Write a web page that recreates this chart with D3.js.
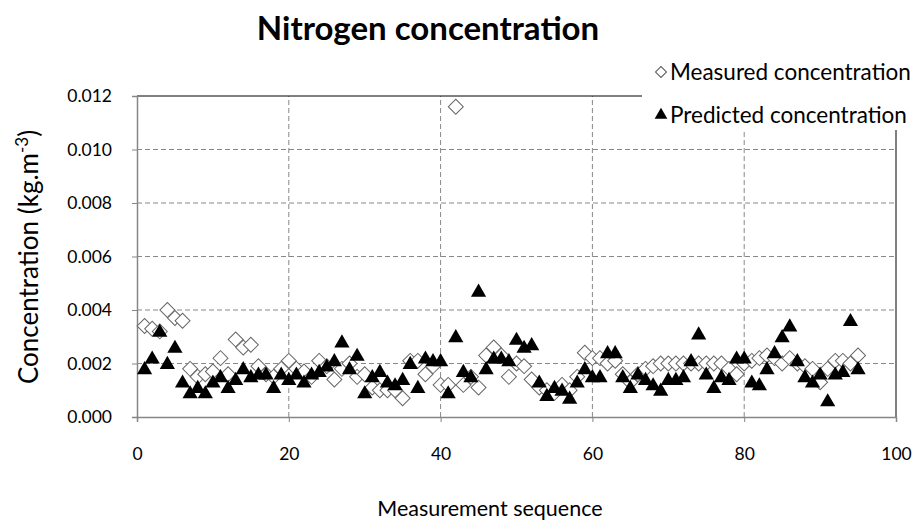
<!DOCTYPE html>
<html>
<head>
<meta charset="utf-8">
<script src="https://cdn.jsdelivr.net/npm/d3@7"></script>
<style>
  body { margin: 0; background: #fff; }
  text { font-family: Lato, "Open Sans", sans-serif; fill: #000; }
</style>
</head>
<body>
<div id="chart"></div>
<script>
// values, index 1..95
var measured = [
  0.0034, 0.0033, 0.0032, 0.0040, 0.0037, 0.0036, 0.0018, 0.0015, 0.0016, 0.0017,
  0.0022, 0.0016, 0.0029, 0.0026, 0.0027, 0.0019, 0.0016, 0.0015, 0.0018, 0.0021,
  0.0018, 0.0017, 0.0015, 0.0021, 0.0019, 0.0014, 0.0018, 0.0020, 0.0015, 0.0016,
  0.0011, 0.0010, 0.0010, 0.0010, 0.0007, 0.0021, 0.0021, 0.0016, 0.0019, 0.0012,
  0.0012, 0.0116, 0.0012, 0.0015, 0.0011, 0.0023, 0.0026, 0.0023, 0.0015, 0.0020,
  0.0019, 0.0014, 0.0011, 0.0010, 0.0009, 0.0012, 0.0010, 0.0015, 0.0024, 0.0022,
  0.0022, 0.0020, 0.0021, 0.0016, 0.0013, 0.0016, 0.0018, 0.0019, 0.0020, 0.0020,
  0.0020, 0.0020, 0.0020, 0.0020, 0.0020, 0.0020, 0.0020, 0.0018, 0.0016, 0.0020,
  0.0021, 0.0022, 0.0023, 0.0022, 0.0020, 0.0022, 0.0020, 0.0019, 0.0018, 0.0013,
  0.0018, 0.0021, 0.0021, 0.0020, 0.0023
];
var predicted = [
  0.0018, 0.0022, 0.0032, 0.0020, 0.0026, 0.0013, 0.0009, 0.0011, 0.0009, 0.0013,
  0.0015, 0.0011, 0.0014, 0.0018, 0.0015, 0.0016, 0.0016, 0.0011, 0.0016, 0.0014,
  0.0016, 0.0013, 0.0016, 0.0017, 0.0019, 0.0021, 0.0028, 0.0018, 0.0023, 0.0009,
  0.0015, 0.0017, 0.0013, 0.0012, 0.0014, 0.0020, 0.0011, 0.0022, 0.0021, 0.0021,
  0.0009, 0.0030, 0.0017, 0.0015, 0.0047, 0.0018, 0.0022, 0.0022, 0.0021, 0.0029,
  0.0026, 0.0027, 0.0013, 0.0008, 0.0011, 0.0010, 0.0007, 0.0013, 0.0018, 0.0015,
  0.0015, 0.0024, 0.0024, 0.0015, 0.0011, 0.0016, 0.0014, 0.0012, 0.0010, 0.0014,
  0.0014, 0.0015, 0.0021, 0.0031, 0.0016, 0.0011, 0.0015, 0.0014, 0.0022, 0.0022,
  0.0013, 0.0012, 0.0018, 0.0024, 0.0030, 0.0034, 0.0021, 0.0015, 0.0013, 0.0016,
  0.0006, 0.0016, 0.0017, 0.0036, 0.0018
];
var xTicks = [0, 20, 40, 60, 80, 100];
var yTicks = [0, 0.002, 0.004, 0.006, 0.008, 0.010, 0.012];
var seriesNames = ["Measured concentration", "Predicted concentration"];

var width = 916, height = 520;
var margin = {top: 96, right: 20, bottom: 103, left: 137};

var svg = d3.select("#chart")
  .append("svg")
  .attr("width", width)
  .attr("height", height);

var x = d3.scaleLinear().domain([0, 100]).range([margin.left, width - margin.right]);
var y = d3.scaleLinear().domain([0, 0.012]).range([height - margin.bottom, margin.top]);

// gridlines
svg.append("g")
  .selectAll("line")
  .data(yTicks.slice(1, -1))
  .enter().append("line")
  .attr("x1", x(0)).attr("x2", x(100))
  .attr("y1", function(d){ return y(d); })
  .attr("y2", function(d){ return y(d); })
  .attr("stroke", "#888").attr("stroke-dasharray", "5,3");

svg.append("g")
  .selectAll("line")
  .data(xTicks.slice(1, -1))
  .enter().append("line")
  .attr("y1", y(0)).attr("y2", y(0.012))
  .attr("x1", function(d){ return x(d); })
  .attr("x2", function(d){ return x(d); })
  .attr("stroke", "#888").attr("stroke-dasharray", "5,3");

// top and right border
svg.append("path")
  .attr("d", "M" + x(0) + "," + y(0.012) + "H" + x(100) + "V" + y(0))
  .attr("fill", "none").attr("stroke", "#000").attr("stroke-width", 1);

// axes
var yAxis = svg.append("g")
  .attr("transform", "translate(" + x(0) + ",0)")
  .call(d3.axisLeft(y).tickValues(yTicks).tickFormat(d3.format(".3f")).tickSize(5).tickPadding(20));
var xAxis = svg.append("g")
  .attr("transform", "translate(0," + y(0) + ")")
  .call(d3.axisBottom(x).tickValues(xTicks).tickSize(5).tickPadding(26));

[yAxis, xAxis].forEach(function(a){
  a.select(".domain").attr("stroke", "#868686").attr("stroke-width", 1.5);
  a.selectAll(".tick line").attr("stroke", "#868686");
  a.selectAll(".tick text").style("font-size", "17.5px").attr("font-family", null);
});

var diamond = d3.symbol().type(d3.symbolSquare).size(112);
var triangle = d3.symbol().type(d3.symbolTriangle).size(100);

svg.append("g")
  .selectAll("path")
  .data(measured)
  .enter().append("path")
  .attr("d", diamond)
  .attr("transform", function(d, i){ return "translate(" + x(i + 1) + "," + y(d) + ") rotate(45)"; })
  .attr("fill", "#fff").attr("stroke", "#666").attr("stroke-width", 1);

svg.append("g")
  .selectAll("path")
  .data(predicted)
  .enter().append("path")
  .attr("d", triangle)
  .attr("transform", function(d, i){ return "translate(" + x(i + 1) + "," + (y(d) + 1) + ")"; })
  .attr("fill", "#000");

// legend, sits over the top right corner of the plot
var legend = svg.append("g");
legend.append("rect")
  .attr("x", 642).attr("y", 50).attr("width", 274).attr("height", 80)
  .attr("fill", "#fff");
legend.append("path")
  .attr("d", d3.symbol().type(d3.symbolSquare).size(60))
  .attr("transform", "translate(661,72) rotate(45)")
  .attr("fill", "#fff").attr("stroke", "#555");
legend.append("path")
  .attr("d", d3.symbol().type(d3.symbolTriangle).size(70))
  .attr("transform", "translate(661,115)")
  .attr("fill", "#000");
legend.selectAll("text")
  .data(seriesNames)
  .enter().append("text")
  .attr("x", 670)
  .attr("y", function(d, i){ return 80 + i * 43; })
  .style("font-size", "22.5px")
  .text(function(d){ return d; });

// titles
svg.append("text")
  .attr("x", 428).attr("y", 40)
  .attr("text-anchor", "middle")
  .style("font-size", "33px").style("font-weight", "bold")
  .text("Nitrogen concentration");

svg.append("text")
  .attr("x", 490).attr("y", 516)
  .attr("text-anchor", "middle")
  .style("font-size", "21.5px")
  .text("Measurement sequence");

var yTitle = svg.append("text")
  .attr("transform", "translate(38,257) rotate(-90)")
  .attr("text-anchor", "middle")
  .style("font-size", "26px");
yTitle.append("tspan").text("Concentration (kg.m");
yTitle.append("tspan").attr("dy", -10).style("font-size", "17px").text("-3");
yTitle.append("tspan").attr("dy", 10).text(")");
</script>
</body>
</html>
